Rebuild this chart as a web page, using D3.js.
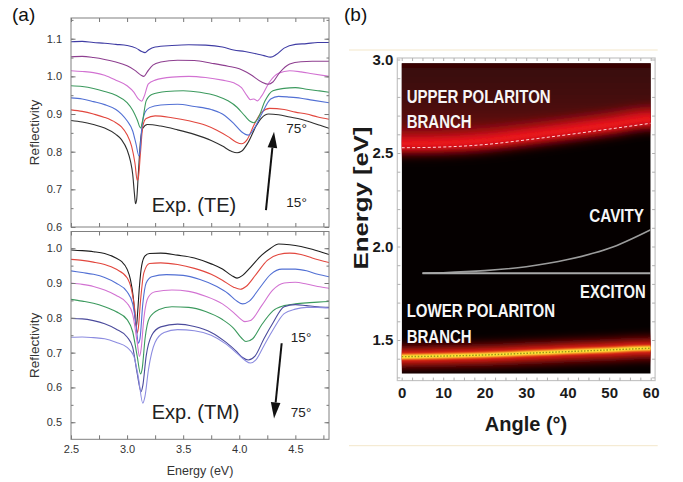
<!DOCTYPE html>
<html>
<head>
<meta charset="utf-8">
<script src="https://cdn.jsdelivr.net/npm/d3@7"></script>
<style>
  html,body{margin:0;padding:0;background:#fff;}
  svg{display:block;font-family:"Liberation Sans",Arial,Helvetica,sans-serif;}
</style>
</head>
<body>
<svg id="fig" width="683" height="482"></svg>
<script>
// ===== (a) angle-resolved reflectivity, [energy eV, reflectivity] =====
// TE, 15° (bottom) to 75° (top)
const teBlack = [[2.5,.883],[2.6,.879],[2.7,.872],[2.8,.863],[2.9,.846],[2.95,.832],[3.0,.805],[3.03,.775],[3.05,.74],[3.065,.69],[3.075,.662],[3.085,.672],[3.1,.74],[3.12,.83],[3.14,.862],[3.18,.872],[3.3,.868],[3.45,.858],[3.6,.846],[3.75,.83],[3.85,.815],[3.93,.801],[3.98,.797],[4.02,.801],[4.08,.825],[4.15,.868],[4.2,.89],[4.26,.9],[4.35,.898],[4.45,.892],[4.55,.886],[4.65,.877],[4.72,.87],[4.8,.862]];
const teRed = [[2.5,.911],[2.6,.907],[2.7,.9],[2.8,.891],[2.9,.877],[2.95,.866],[3.0,.845],[3.04,.815],[3.07,.77],[3.09,.724],[3.1,.73],[3.12,.8],[3.14,.868],[3.17,.888],[3.25,.895],[3.4,.89],[3.55,.882],[3.7,.87],[3.8,.857],[3.9,.84],[3.97,.826],[4.02,.821],[4.07,.832],[4.13,.87],[4.2,.905],[4.27,.915],[4.4,.912],[4.5,.905],[4.6,.9],[4.7,.892],[4.8,.886]];
const teBlue = [[2.5,.943],[2.6,.94],[2.7,.933],[2.8,.925],[2.9,.912],[2.95,.9],[3.0,.882],[3.05,.855],[3.08,.82],[3.105,.789],[3.115,.8],[3.13,.86],[3.16,.905],[3.2,.917],[3.3,.924],[3.45,.926],[3.6,.92],[3.75,.912],[3.85,.9],[3.95,.875],[4.02,.853],[4.08,.844],[4.13,.86],[4.2,.9],[4.28,.94],[4.35,.947],[4.45,.945],[4.55,.942],[4.65,.937],[4.8,.93]];
const teGreen = [[2.5,.975],[2.6,.973],[2.7,.968],[2.8,.96],[2.9,.95],[3.0,.93],[3.05,.91],[3.09,.885],[3.12,.863],[3.14,.885],[3.17,.935],[3.22,.952],[3.35,.96],[3.5,.962],[3.65,.958],[3.8,.948],[3.9,.935],[3.98,.918],[4.05,.895],[4.1,.88],[4.13,.877],[4.17,.89],[4.23,.935],[4.3,.962],[4.4,.968],[4.5,.97],[4.6,.966],[4.7,.962],[4.8,.958]];
const tePink = [[2.5,1.015],[2.6,1.013],[2.7,1.01],[2.8,1.003],[2.9,.99],[3.0,.975],[3.06,.958],[3.1,.94],[3.13,.934],[3.15,.945],[3.19,.98],[3.25,.99],[3.4,.998],[3.55,1.0],[3.7,.997],[3.85,.99],[3.95,.983],[4.02,.97],[4.07,.948],[4.1,.938],[4.13,.94],[4.16,.935],[4.2,.948],[4.27,.985],[4.35,1.008],[4.45,1.015],[4.55,1.012],[4.65,1.007],[4.8,1.0]];
const tePurple = [[2.5,1.052],[2.6,1.053],[2.7,1.05],[2.8,1.045],[2.9,1.038],[3.0,1.028],[3.07,1.016],[3.12,1.004],[3.15,1.0],[3.18,1.012],[3.23,1.03],[3.3,1.038],[3.45,1.043],[3.6,1.042],[3.75,1.035],[3.9,1.027],[4.0,1.02],[4.1,1.005],[4.2,.985],[4.26,.979],[4.3,.985],[4.36,1.01],[4.45,1.033],[4.55,1.039],[4.65,1.04],[4.8,1.04]];
const teNavy = [[2.5,1.092],[2.6,1.093],[2.7,1.09],[2.8,1.088],[2.9,1.085],[3.0,1.082],[3.08,1.075],[3.13,1.066],[3.16,1.063],[3.19,1.07],[3.25,1.078],[3.4,1.082],[3.55,1.084],[3.7,1.083],[3.85,1.078],[3.95,1.07],[4.05,1.066],[4.15,1.06],[4.22,1.055],[4.28,1.051],[4.33,1.058],[4.4,1.075],[4.5,1.085],[4.6,1.087],[4.7,1.09],[4.8,1.09]];

// TM, 15° (top) to 75° (bottom)
const tmBlack = [[2.5,.995],[2.6,.993],[2.7,.99],[2.8,.985],[2.9,.972],[2.95,.962],[3.0,.94],[3.03,.91],[3.055,.86],[3.075,.79],[3.083,.775],[3.095,.82],[3.11,.89],[3.13,.95],[3.16,.978],[3.2,.985],[3.3,.986],[3.45,.98],[3.6,.972],[3.75,.955],[3.85,.94],[3.93,.922],[3.98,.914],[4.03,.922],[4.1,.945],[4.2,.98],[4.28,1.0],[4.35,1.012],[4.45,1.01],[4.55,1.005],[4.65,.997],[4.75,.987],[4.8,.982]];
const tmRed = [[2.5,.968],[2.6,.965],[2.7,.96],[2.8,.953],[2.9,.94],[3.0,.915],[3.04,.88],[3.07,.82],[3.09,.756],[3.1,.77],[3.12,.85],[3.15,.93],[3.2,.956],[3.3,.958],[3.45,.953],[3.6,.942],[3.75,.925],[3.85,.908],[3.95,.888],[4.01,.882],[4.06,.89],[4.15,.925],[4.25,.965],[4.35,.982],[4.45,.986],[4.55,.982],[4.65,.972],[4.8,.959]];
const tmBlue = [[2.5,.935],[2.6,.93],[2.7,.925],[2.8,.916],[2.9,.9],[3.0,.875],[3.05,.84],[3.08,.78],[3.1,.727],[3.115,.74],[3.14,.84],[3.17,.9],[3.22,.918],[3.35,.924],[3.5,.922],[3.65,.91],[3.8,.89],[3.9,.87],[3.97,.85],[4.03,.84],[4.09,.848],[4.18,.885],[4.28,.925],[4.38,.94],[4.5,.94],[4.6,.935],[4.7,.925],[4.8,.918]];
const tmPink = [[2.5,.9],[2.6,.896],[2.7,.89],[2.8,.88],[2.9,.865],[3.0,.842],[3.05,.81],[3.09,.73],[3.11,.689],[3.125,.71],[3.15,.8],[3.19,.86],[3.25,.875],[3.4,.88],[3.55,.876],[3.7,.862],[3.85,.84],[3.95,.815],[4.0,.8],[4.05,.789],[4.1,.792],[4.2,.835],[4.3,.88],[4.4,.9],[4.5,.902],[4.6,.897],[4.7,.89],[4.8,.885]];
const tmGreen = [[2.5,.853],[2.6,.848],[2.7,.842],[2.8,.832],[2.9,.818],[3.0,.795],[3.05,.76],[3.09,.69],[3.12,.639],[3.135,.655],[3.16,.74],[3.2,.8],[3.28,.823],[3.4,.832],[3.55,.83],[3.7,.818],[3.85,.795],[3.95,.77],[4.02,.742],[4.06,.732],[4.12,.74],[4.2,.78],[4.3,.82],[4.4,.835],[4.5,.84],[4.6,.843],[4.7,.845],[4.8,.847]];
const tmSlate = [[2.5,.798],[2.6,.797],[2.7,.792],[2.8,.783],[2.9,.768],[3.0,.745],[3.05,.715],[3.09,.64],[3.125,.588],[3.14,.605],[3.17,.69],[3.22,.75],[3.3,.774],[3.45,.782],[3.6,.775],[3.75,.758],[3.88,.73],[3.97,.705],[4.03,.686],[4.08,.679],[4.14,.69],[4.22,.74],[4.3,.785],[4.4,.832],[4.5,.838],[4.6,.835],[4.7,.832],[4.8,.83]];
const tmLavender = [[2.5,.744],[2.6,.745],[2.7,.743],[2.8,.74],[2.9,.73],[3.0,.715],[3.06,.69],[3.1,.63],[3.14,.555],[3.16,.575],[3.19,.65],[3.25,.73],[3.33,.758],[3.45,.766],[3.6,.763],[3.75,.75],[3.88,.725],[3.98,.698],[4.05,.678],[4.1,.67],[4.15,.68],[4.22,.72],[4.3,.765],[4.4,.812],[4.5,.825],[4.6,.83],[4.7,.83],[4.8,.828]];

const teCurves = [teBlack, teRed, teBlue, teGreen, tePink, tePurple, teNavy];
const teColors = ["#2e2e2e","#e2473e","#5270d4","#3c9a5e","#d272d2","#8e3f90","#3f3ca4"];
const tmCurves = [tmBlack, tmRed, tmBlue, tmPink, tmGreen, tmSlate, tmLavender];
const tmColors = ["#1e1e1e","#e2473e","#5270d4","#d272d2","#3c9a5e","#4b4b9c","#8c8ce0"];

const energyTicks = [2.5, 3.0, 3.5, 4.0, 4.5];
const teTicks = [0.6, 0.7, 0.8, 0.9, 1.0, 1.1];
const tmTicks = [0.5, 0.6, 0.7, 0.8, 0.9, 1.0];

// ===== (b) polariton dispersion =====
const angles = [0, 10, 20, 30, 40, 50, 60];
const upperBranch = [2.528, 2.532, 2.545, 2.57, 2.598, 2.628, 2.659];
const lowerBranch = [1.411, 1.414, 1.42, 1.429, 1.438, 1.447, 1.456];
const cavityAngles = [5, 10, 20, 30, 40, 50, 60];
const cavityMode = [1.857, 1.86, 1.871, 1.892, 1.93, 1.99, 2.09];
const excitonAngles = [5, 60];
const excitonEnergy = [1.857, 1.857];
const angleTicks = [0, 10, 20, 30, 40, 50, 60];
const dispTicks = [1.5, 2.0, 2.5, 3.0];

const svg = d3.select("#fig");
const defs = svg.append("defs");

// ---------- panel (a) ----------
const xE = d3.scaleLinear().domain([2.5, 4.8]).range([71, 329]);

function spectraPanel(id, yDomain, yRange, curves, colors, ticks, withXLabels) {
  const y = d3.scaleLinear().domain(yDomain).range(yRange);
  const g = svg.append("g").attr("class", id);
  const [x0, x1] = xE.range();
  const yTop = yRange[1], yBot = yRange[0];

  defs.append("clipPath").attr("id", "clip-" + id)
    .append("rect").attr("x", x0).attr("y", yTop).attr("width", x1 - x0).attr("height", yBot - yTop);

  const line = d3.line().x(d => xE(d[0])).y(d => y(d[1])).curve(d3.curveMonotoneX);
  g.append("g").attr("clip-path", `url(#clip-${id})`)
    .selectAll("path").data(curves).join("path")
    .attr("d", line).attr("fill", "none")
    .attr("stroke", (d, i) => colors[i]).attr("stroke-width", 1.1)
    .attr("stroke-linejoin", "round");

  const minorX = d3.range(2.5, 4.81, 0.25);
  const minorY = d3.range(Math.ceil(yDomain[0] * 20) / 20, yDomain[1], 0.05);
  const axStyle = sel => {
    sel.select(".domain").remove();
    sel.selectAll("line").attr("stroke", "#777");
    sel.selectAll("text").attr("fill", "#333").style("font-size", "11px");
  };
  // inward tick marks on all four sides
  g.append("g").attr("transform", `translate(0,${yBot})`)
    .call(d3.axisBottom(xE).tickValues(minorX).tickSize(-4).tickFormat("")).call(axStyle);
  g.append("g").attr("transform", `translate(0,${yTop})`)
    .call(d3.axisTop(xE).tickValues(minorX).tickSize(-4).tickFormat("")).call(axStyle);
  g.append("g").attr("transform", `translate(${x0},0)`)
    .call(d3.axisLeft(y).tickValues(minorY).tickSize(-2.5).tickFormat("")).call(axStyle);
  g.append("g").attr("transform", `translate(${x1},0)`)
    .call(d3.axisRight(y).tickValues(minorY).tickSize(-2.5).tickFormat("")).call(axStyle);
  g.append("g").attr("transform", `translate(${x1},0)`)
    .call(d3.axisRight(y).tickValues(ticks).tickSize(-4.5).tickFormat("")).call(axStyle);
  g.append("g").attr("transform", `translate(${x0},0)`)
    .call(d3.axisLeft(y).tickValues(ticks).tickSize(-4.5).tickPadding(9).tickFormat(d3.format(".1f"))).call(axStyle);
  if (withXLabels) {
    g.append("g").attr("transform", `translate(0,${yBot})`)
      .call(d3.axisBottom(xE).tickValues(energyTicks).tickSize(0).tickPadding(6).tickFormat(d3.format(".1f")))
      .call(axStyle);
  }
  g.append("rect").attr("x", x0).attr("y", yTop).attr("width", x1 - x0).attr("height", yBot - yTop)
    .attr("fill", "none").attr("stroke", "#808080").attr("stroke-width", 1);

  g.append("text").attr("transform", `translate(39,${(yTop + yBot) / 2 + 10}) rotate(-90)`)
    .attr("text-anchor", "middle").attr("fill", "#333").style("font-size", "13.5px").text("Reflectivity");
  return y;
}

const yTE = spectraPanel("te", [0.6, 1.155], [227, 18], teCurves, teColors, teTicks, false);
const yTM = spectraPanel("tm", [0.451, 1.048], [439.3, 231.5], tmCurves, tmColors, tmTicks, true);

svg.append("text").attr("x", xE(3.65)).attr("y", 475).attr("text-anchor", "middle")
  .attr("fill", "#333").style("font-size", "12.5px").text("Energy (eV)");

function arrow(x1, y1, x2, y2) {
  const a = Math.atan2(y2 - y1, x2 - x1), L = 16, W = 4.8;
  const bx = x2 - L * Math.cos(a), by = y2 - L * Math.sin(a);
  svg.append("line").attr("x1", x1).attr("y1", y1).attr("x2", bx).attr("y2", by)
    .attr("stroke", "#111").attr("stroke-width", 2);
  svg.append("path").attr("fill", "#111").attr("d",
    `M${x2},${y2}L${bx - W * Math.sin(a)},${by + W * Math.cos(a)}L${bx + W * Math.sin(a)},${by - W * Math.cos(a)}Z`);
}
arrow(xE(4.238), yTE(0.645), xE(4.31), yTE(0.853));
arrow(xE(4.378), yTM(0.727), xE(4.31), yTM(0.511));

const note = (x, y, t, s) => svg.append("text").attr("x", x).attr("y", y)
  .attr("fill", "#222").style("font-size", s + "px").text(t);
note(xE(4.42), yTE(0.85), "75°", 13.5);
note(xE(4.42), yTE(0.652), "15°", 13.5);
note(xE(4.46), yTM(0.73), "15°", 13.5);
note(xE(4.46), yTM(0.515), "75°", 13.5);
note(xE(3.22), yTE(0.64), "Exp. (TE)", 20);
note(xE(3.22), yTM(0.508), "Exp. (TM)", 20);

svg.append("text").attr("x", 12).attr("y", 21).attr("fill", "#111").style("font-size", "19px").text("(a)");
svg.append("text").attr("x", 344).attr("y", 21).attr("fill", "#111").style("font-size", "19px").text("(b)");

// ---------- panel (b) ----------
const xA = d3.scaleLinear().domain([0, 60]).range([401.7, 650.7]);
const yB = d3.scaleLinear().domain([1.5, 3.0]).range([340, 59.5]);
const hm = { x0: xA(0), x1: xA(60), y0: yB(2.98), y1: yB(1.32) };

// thin separators above and below the map
svg.selectAll("line.sep").data([50, 445.7]).join("line").attr("class", "sep")
  .attr("x1", 349).attr("x2", 657.7).attr("y1", d => d).attr("y2", d => d)
  .attr("stroke", "#f3e7ca").attr("stroke-width", 1);

defs.append("clipPath").attr("id", "clip-map").append("rect")
  .attr("x", hm.x0).attr("y", hm.y0).attr("width", hm.x1 - hm.x0).attr("height", hm.y1 - hm.y0);
const blur = (id, s) => defs.append("filter").attr("id", id)
  .attr("filterUnits", "userSpaceOnUse").attr("x", 300).attr("y", 0).attr("width", 400).attr("height", 482)
  .append("feGaussianBlur").attr("stdDeviation", s);
blur("b10", 10); blur("b5", 5); blur("b3", 3); blur("b1", 1);

const haze = defs.append("linearGradient").attr("id", "haze").attr("x1", 0).attr("x2", 0).attr("y1", 0).attr("y2", 1);
haze.append("stop").attr("offset", "0%").attr("stop-color", "#2a0505");
haze.append("stop").attr("offset", "70%").attr("stop-color", "#4a0808");
haze.append("stop").attr("offset", "100%").attr("stop-color", "#8a0c10");

const frame = svg.append("g");
frame.append("rect").attr("x", hm.x0 - 4.4).attr("y", yB(3.008)).attr("width", hm.x1 - hm.x0 + 8.8)
  .attr("height", yB(1.283) - yB(3.008)).attr("fill", "#fff").attr("stroke", "#c4c4c4").attr("stroke-width", 1.2);

const map = svg.append("g").attr("clip-path", "url(#clip-map)");
map.append("rect").attr("x", hm.x0).attr("y", hm.y0).attr("width", hm.x1 - hm.x0).attr("height", hm.y1 - hm.y0)
  .attr("fill", "#050000");

const upper = angles.map((a, i) => [a, upperBranch[i]]);
const lower = angles.map((a, i) => [a, lowerBranch[i]]);
const ext = pts => [[pts[0][0] - 8, pts[0][1]], ...pts, [pts[pts.length - 1][0] + 8, pts[pts.length - 1][1]]];
const lineB = (dE = 0) => d3.line().x(d => xA(d[0])).y(d => yB(d[1] + dE)).curve(d3.curveMonotoneX);

// broad emission above the upper branch
map.append("path").datum(ext(upper))
  .attr("d", d3.area().x(d => xA(d[0])).y0(d => yB(d[1] + 0.01)).y1(hm.y0 - 30).curve(d3.curveMonotoneX))
  .attr("fill", "url(#haze)").attr("filter", "url(#b10)");
map.append("path").datum(ext(upper)).attr("d", lineB(0.03)).attr("fill", "none")
  .attr("stroke", "#b80e16").attr("stroke-width", 22).attr("filter", "url(#b5)");
map.append("path").datum(ext(upper)).attr("d", lineB(0.022)).attr("fill", "none")
  .attr("stroke", "#f0141e").attr("stroke-width", 9).attr("filter", "url(#b3)");
map.append("path").datum(upper).attr("d", lineB(0)).attr("fill", "none")
  .attr("stroke", "#ffd6d6").attr("stroke-width", 1).attr("stroke-dasharray", "3,2.2");

// lower branch
map.append("path").datum(ext(lower)).attr("d", lineB(0)).attr("fill", "none")
  .attr("stroke", "#9a0a0a").attr("stroke-width", 22).attr("filter", "url(#b5)");
map.append("path").datum(ext(lower)).attr("d", lineB(0)).attr("fill", "none")
  .attr("stroke", "#ff2a12").attr("stroke-width", 9).attr("filter", "url(#b3)");
map.append("path").datum(ext(lower)).attr("d", lineB(0)).attr("fill", "none")
  .attr("stroke", "#fff23a").attr("stroke-width", 4.5).attr("filter", "url(#b1)");
map.append("path").datum(lower).attr("d", lineB(0)).attr("fill", "none")
  .attr("stroke", "#9c9418").attr("stroke-width", 1.4).attr("stroke-dasharray", "1.6,1.6");

// bare cavity and exciton
map.append("path").datum(cavityAngles.map((a, i) => [a, cavityMode[i]])).attr("d", lineB(0))
  .attr("fill", "none").attr("stroke", "#9c9c9c").attr("stroke-width", 1.6);
map.append("path").datum(excitonAngles.map((a, i) => [a, excitonEnergy[i]]))
  .attr("d", d3.line().x(d => xA(d[0])).y(d => yB(d[1])))
  .attr("fill", "none").attr("stroke", "#a8a8a8").attr("stroke-width", 1.8);

const lab = (x, y, t, w) => map.append("text").attr("x", x).attr("y", y)
  .attr("textLength", w).attr("lengthAdjust", "spacingAndGlyphs")
  .attr("fill", "#f6f6f6").style("font-size", "18.5px").style("font-weight", "bold")
  .style("font-family", "'Liberation Sans Narrow','Liberation Sans',Arial,sans-serif").text(t);
lab(406.7, 103.3, "UPPER POLARITON", 144);
lab(406.7, 128.3, "BRANCH", 65);
lab(589.3, 221.7, "CAVITY", 54.7);
lab(580, 298.3, "EXCITON", 65.7);
lab(406.7, 316.9, "LOWER POLARITON", 148.3);
lab(406.7, 342.9, "BRANCH", 65);

// frame ticks
const fTop = yB(3.008), fBot = yB(1.283), fL = hm.x0 - 4.4, fR = hm.x1 + 4.4;
const fStyle = sel => { sel.select(".domain").remove(); sel.selectAll("line").attr("stroke", "#b0b0b0"); };
const minorA = d3.range(0, 60.1, 2.5);
const minorE = d3.range(1.3, 3.001, 0.1);
frame.append("g").attr("transform", `translate(0,${fBot})`).call(d3.axisBottom(xA).tickValues(minorA).tickSize(-3).tickFormat("")).call(fStyle);
frame.append("g").attr("transform", `translate(0,${fTop})`).call(d3.axisTop(xA).tickValues(minorA).tickSize(-3).tickFormat("")).call(fStyle);
frame.append("g").attr("transform", `translate(${fL},0)`).call(d3.axisLeft(yB).tickValues(minorE).tickSize(-3).tickFormat("")).call(fStyle);
frame.append("g").attr("transform", `translate(${fR},0)`).call(d3.axisRight(yB).tickValues(minorE).tickSize(-3).tickFormat("")).call(fStyle);

const boldLab = sel => {
  sel.select(".domain").remove();
  sel.selectAll("text").attr("fill", "#1a1a1a").style("font-size", "15px").style("font-weight", "bold")
    .style("font-family", "'Liberation Sans Narrow','Liberation Sans',Arial,sans-serif");
};
svg.append("g").attr("transform", `translate(0,${fBot})`)
  .call(d3.axisBottom(xA).tickValues(angleTicks).tickSize(0).tickPadding(7).tickFormat(d3.format("d"))).call(boldLab);
svg.append("g").attr("transform", `translate(${fL},0)`)
  .call(d3.axisLeft(yB).tickValues(dispTicks).tickSize(0).tickPadding(4).tickFormat(d3.format(".1f"))).call(boldLab);

svg.append("text").attr("x", 526).attr("y", 431).attr("text-anchor", "middle")
  .attr("fill", "#1a1a1a").style("font-size", "20px").style("font-weight", "bold").text("Angle (°)");
svg.append("text").attr("transform", "translate(368,198) rotate(-90)").attr("text-anchor", "middle")
  .attr("textLength", 143).attr("lengthAdjust", "spacingAndGlyphs")
  .attr("fill", "#1a1a1a").style("font-size", "21px").style("font-weight", "bold").text("Energy [eV]");
</script>
</body>
</html>
